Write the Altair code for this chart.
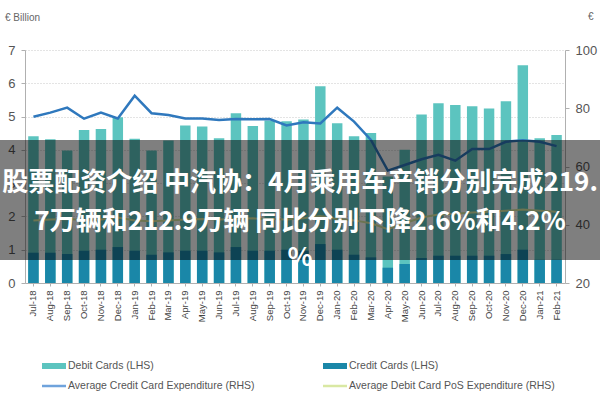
import altair as alt
import pandas as pd

months = ["Jul-18", "Aug-18", "Sep-18", "Oct-18", "Nov-18", "Dec-18",
          "Jan-19", "Feb-19", "Mar-19", "Apr-19", "May-19", "Jun-19",
          "Jul-19", "Aug-19", "Sep-19", "Oct-19", "Nov-19", "Dec-19",
          "Jan-20", "Feb-20", "Mar-20", "Apr-20", "May-20", "Jun-20",
          "Jul-20", "Aug-20", "Sep-20", "Oct-20", "Nov-20", "Dec-20",
          "Jan-21", "Feb-21"]
debit = [4.41, 4.32, 3.98, 4.60, 4.63, 4.98, 4.33, 3.98, 4.28, 4.73, 4.70, 4.35,
         5.10, 4.72, 4.88, 4.86, 4.91, 5.91, 4.80, 4.41, 4.51, 3.20, 4.00, 5.06,
         5.40, 5.35, 5.31, 5.24, 5.46, 6.54, 4.35, 4.45]
credit = [0.91, 0.91, 0.87, 0.97, 1.00, 1.08, 0.97, 0.85, 0.92, 0.97, 0.97, 0.92,
          1.08, 0.97, 0.97, 1.00, 0.97, 1.17, 1.00, 0.85, 0.77, 0.46, 0.57, 0.75,
          0.82, 0.82, 0.82, 0.82, 0.87, 1.00, 0.70, 0.70]
cc_exp = [77.1, 78.5, 80.2, 76.4, 78.5, 76.5, 84.3, 78.3, 77.7, 76.5, 76.5, 76.0,
          76.3, 76.2, 76.3, 74.1, 75.2, 74.8, 80.2, 75.4, 69.1, 58.6, 60.5, 62.5,
          64.0, 62.0, 66.0, 66.0, 68.5, 69.0, 68.5, 67.0]
dc_exp = [41.5, 41.8, 42.0, 41.6, 41.8, 42.5, 41.5, 41.2, 41.5, 41.8, 42.0, 41.8,
          42.0, 42.2, 42.0, 41.8, 42.2, 43.0, 42.0, 41.5, 40.5, 38.5, 40.5, 42.5,
          43.5, 43.8, 44.2, 44.5, 44.8, 45.2, 44.8, 44.5]

legend_labels = ["Debit Cards (LHS)", "Credit Cards (LHS)",
                 "Average Credit Card Expenditure (RHS)",
                 "Average Debit Card PoS Expenditure (RHS)"]
banner_lines = ["股票配资介绍 中汽协：4月乘用车产销分别完成219.",
                "7万辆和212.9万辆 同比分别下降2.6%和4.2%",
                "%"]
left_title = "€ Billion"
right_title = "€"
left_ticks = [0, 1, 2, 3, 4, 5, 6, 7]
right_ticks = [20, 40, 60, 80, 100]

C_DEBIT = "#5cc4bf"
C_CREDIT = "#1a87a8"
C_CCLINE = "#2f78bd"
C_DCLINE = "#d9e8a3"
FONT = "Liberation Sans"

df = pd.DataFrame({"month": months, "debit": debit, "credit": credit,
                   "cc_exp": cc_exp, "dc_exp": dc_exp})

xenc = alt.X("month:N", sort=months, title=None,
             scale=alt.Scale(paddingInner=0.38, paddingOuter=0.19),
             axis=alt.Axis(labelAngle=-90, labelFontSize=9.5, labelColor="#444",
                           labelFont=FONT, domainColor="#b0b0b0", tickColor="#b0b0b0",
                           tickSize=3, labelPadding=4))

base = alt.Chart(df)
yleft = alt.Scale(domain=[0, 7], nice=False)
left_axis = alt.Axis(values=left_ticks, tickCount=8, labelOverlap=False, grid=True,
                     gridDash=[1, 2], gridColor="#c8c8c8",
                     domainColor="#b0b0b0", tickColor="#b0b0b0", tickSize=4,
                     labelFontSize=13, labelColor="#555", labelFont=FONT, labelPadding=6)
debit_bars = base.mark_bar(color=C_DEBIT).encode(
    x=xenc, y=alt.Y("debit:Q", scale=yleft, axis=left_axis, title=None))
credit_bars = base.mark_bar(color=C_CREDIT).encode(
    x=xenc, y=alt.Y("credit:Q", scale=yleft, axis=left_axis, title=None))
left = alt.layer(debit_bars, credit_bars)

yright = alt.Scale(domain=[20, 100], nice=False)
right_axis = alt.Axis(orient="right", values=right_ticks, labelOverlap=False, grid=False,
                      domainColor="#b0b0b0", tickColor="#b0b0b0", tickSize=4,
                      labelFontSize=13, labelColor="#555", labelFont=FONT, labelPadding=6)
dc_line = base.mark_line(color=C_DCLINE, strokeWidth=2).encode(
    x=xenc, y=alt.Y("dc_exp:Q", scale=yright, axis=right_axis, title=None))
cc_line = base.mark_line(color=C_CCLINE, strokeWidth=2.5).encode(
    x=xenc, y=alt.Y("cc_exp:Q", scale=yright, axis=right_axis, title=None))
right = alt.layer(dc_line, cc_line)

one = pd.DataFrame({"k": [0]})

banner = alt.Chart(one).mark_rect(color="#000000", opacity=0.5).encode(
    x=alt.value(-25), x2=alt.value(575), y=alt.value(90), y2=alt.value(210))

banner_texts = []
for txt, yy in zip(banner_lines, [133, 172, 208]):
    banner_texts.append(
        alt.Chart(pd.DataFrame({"t": [txt]})).mark_text(
            font="Noto Sans CJK SC", fontWeight="bold", fontSize=26, color="white",
            align="center", baseline="middle").encode(
            text="t:N", x=alt.value(275), y=alt.value(yy)))

titles = [
    alt.Chart(pd.DataFrame({"t": [left_title]})).mark_text(
        font=FONT, fontSize=10, color="#666", align="left", baseline="middle").encode(
        text="t:N", x=alt.value(-20), y=alt.value(-32)),
    alt.Chart(pd.DataFrame({"t": [right_title]})).mark_text(
        font=FONT, fontSize=10, color="#666", align="left", baseline="middle").encode(
        text="t:N", x=alt.value(563), y=alt.value(-33)),
]

legend = []
pos = [(17, 316), (298, 316), (17, 336), (298, 336)]
kinds = [("rect", C_DEBIT), ("rect", C_CREDIT), ("line", "#6fa3dc"), ("line", C_DCLINE)]
for lab, (px, py), (kind, col) in zip(legend_labels, pos, kinds):
    if kind == "rect":
        sw = alt.Chart(one).mark_rect(color=col).encode(
            x=alt.value(px), x2=alt.value(px + 24), y=alt.value(py - 3), y2=alt.value(py + 3))
    else:
        sw = alt.Chart(one).mark_rule(color=col, strokeWidth=2.5).encode(
            x=alt.value(px), x2=alt.value(px + 24), y=alt.value(py))
    tx = alt.Chart(pd.DataFrame({"t": [lab]})).mark_text(
        font=FONT, fontSize=10.5, color="#555", align="left", baseline="middle").encode(
        text="t:N", x=alt.value(px + 26), y=alt.value(py))
    legend += [sw, tx]

chart = alt.layer(left, right, banner, *banner_texts, *titles, *legend).resolve_scale(
    y="independent"
).properties(
    width=540, height=233,
    autosize=alt.AutoSizeParams(type="none"),
    padding={"left": 25, "top": 50, "right": 35, "bottom": 117},
    background="white"
).configure_view(stroke=None)

chart.save("out.html", embed_options={"renderer": "svg", "actions": False})
